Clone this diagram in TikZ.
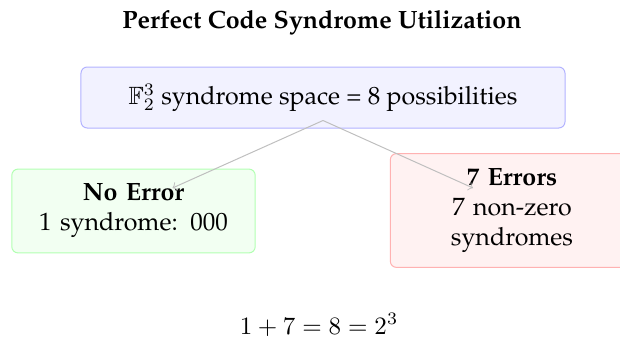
\documentclass[tikz,border=0pt]{standalone}
\usepackage[T1]{fontenc}
\usepackage{palatino}
\usepackage{amssymb}
\tikzset{
  box/.style={draw, rounded corners=2.5pt, align=center, inner sep=6pt},
  casebox/.style={box, text width=3cm},
  link/.style={->, gray!50, thin}
}
\begin{document}
\begin{tikzpicture}[x=0.4pt, y=-0.4pt]
\useasboundingbox (0,0) rectangle (620,340);
\node[font=\bfseries, anchor=base] (title) at (322,28) {Perfect Code Syndrome Utilization};
% syndrome space
\node[box, fill=blue!5, draw=blue!30, minimum width=193.6pt, minimum height=24.4pt] (space) at (323,97.5) {$\mathbb{F}_2^3$ syndrome space = 8 possibilities};
% the two cases
\node[casebox, fill=green!5, draw=green!30] (noerr) at (133.5,211) {\textbf{No Error}\\1 syndrome: 000};
\node[casebox, fill=red!5, draw=red!30] (errs) at (512,210.5) {\textbf{7 Errors}\\7 non-zero syndromes};
\coordinate (split) at ([yshift=3.2pt]space.south);
\coordinate (tipL) at ([xshift=15.6pt,yshift=9.2pt]noerr.center);
\coordinate (tipR) at ([xshift=-15.6pt,yshift=9pt]errs.center);
\draw[link] (split)--(tipL);
\draw[link] (split)--(tipR);
\node[anchor=base] (count) at (319,334) {$1+7=8=2^3$};
\end{tikzpicture}
\end{document}
